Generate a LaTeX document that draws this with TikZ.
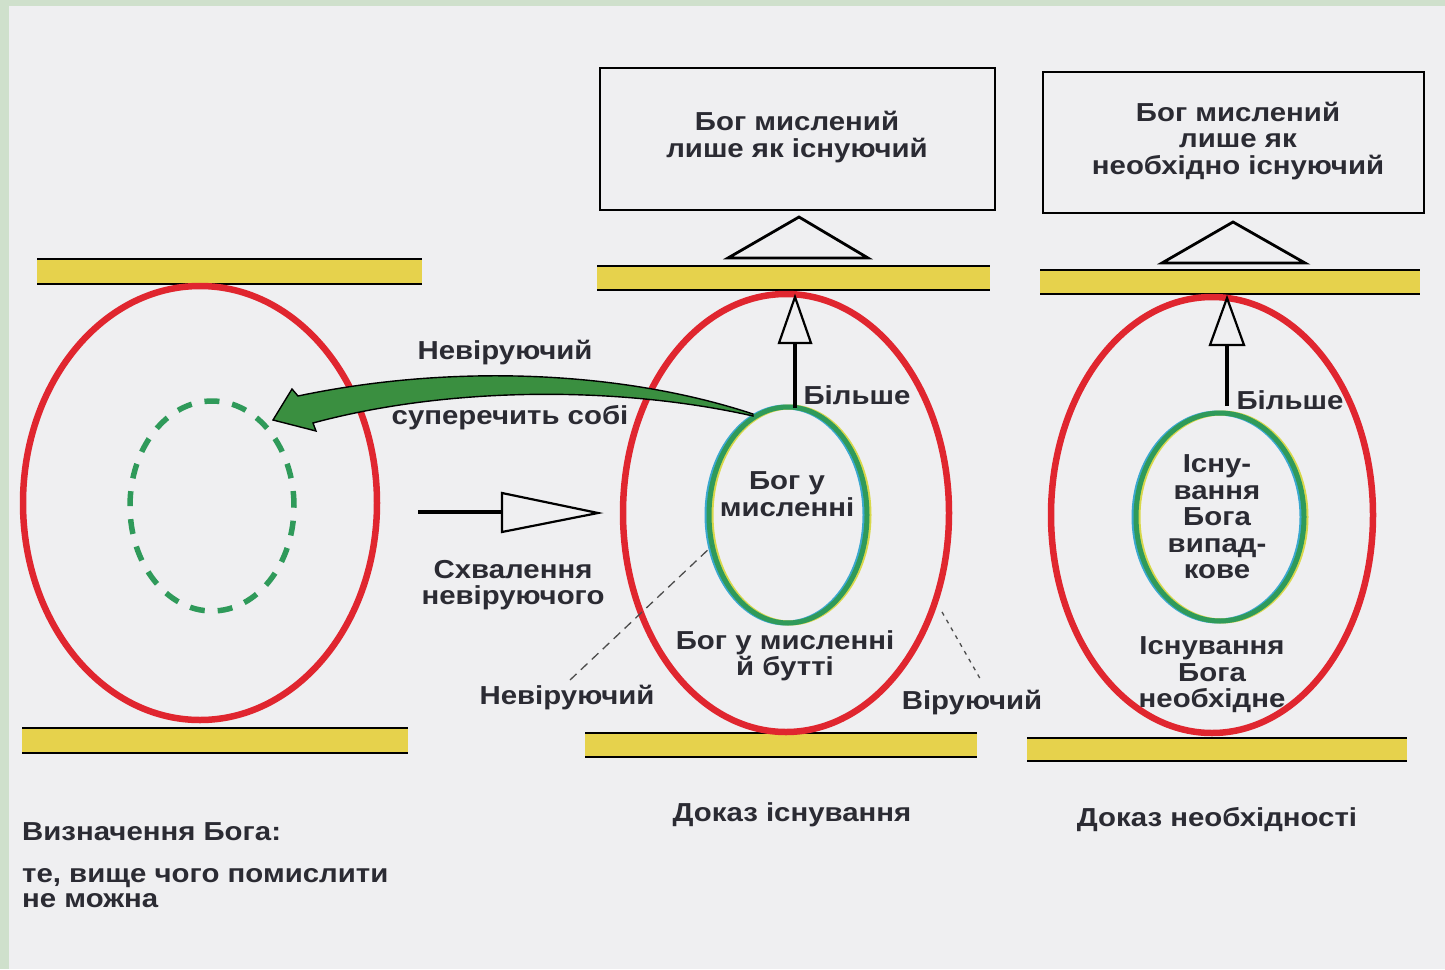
\documentclass[tikz,border=0pt]{standalone}
\usepackage{fontspec}
\usetikzlibrary{shapes.geometric}
\newfontfamily\labfont{Liberation Sans}[FakeStretch=1.13]
\definecolor{bgc}{HTML}{EFEFF1}
\definecolor{framec}{HTML}{CFE0CC}
\definecolor{redc}{HTML}{E0262F}
\definecolor{greenc}{HTML}{2F9A5A}
\definecolor{cyanc}{HTML}{3AA8D0}
\definecolor{yelc}{HTML}{D8D84A}
\definecolor{arrowg}{HTML}{3A8F40}
\definecolor{barc}{HTML}{E6D24C}
\definecolor{txtc}{HTML}{2B2B33}
\tikzset{
  txt/.style={font=\labfont\bfseries\fontsize{26}{26.5}\selectfont, text=txtc, align=center, inner sep=0pt},
  redell/.style={ellipse, draw=redc, line width=6.5pt, inner sep=0pt},
  greenell/.style={ellipse, draw=greenc, line width=5pt, inner sep=0pt},
  cyanell/.style={ellipse, draw=cyanc, line width=5pt, inner sep=0pt},
  yelell/.style={ellipse, draw=yelc, line width=5pt, inner sep=0pt},
  dashell/.style={ellipse, draw=greenc, line width=5.5pt, inner sep=0pt, dash pattern=on 15pt off 13pt},
  boxst/.style={rectangle, draw=black, line width=1.8pt, inner sep=0pt},
  hollowhead/.style={draw=black, line width=2.2pt, fill=bgc, line join=miter},
  shaft/.style={draw=black, line width=4pt},
  guide/.style={draw=black!70, line width=1.3pt}
}
\newcommand{\ybar}[4]{%
  \fill[barc] (#1,#3) rectangle (#2,#4);
  \draw[black, line width=1.8pt] (#1,#3) -- (#2,#3);
  \draw[black, line width=1.8pt] (#1,#4) -- (#2,#4);}
\begin{document}
\begin{tikzpicture}[x=1pt,y=-1pt]
\useasboundingbox (0,0) rectangle (1445,969);
\fill[bgc] (0,0) rectangle (1445,969);
\fill[framec] (0,0) rectangle (9,969);
\fill[framec] (0,0) rectangle (1445,6);

% yellow bars
\ybar{37}{422}{259}{284}
\ybar{22}{408}{728}{753}
\ybar{597}{990}{266}{290}
\ybar{585}{977}{733}{757}
\ybar{1040}{1420}{270}{294}
\ybar{1027}{1407}{738}{761}

% ellipses
\node[redell, minimum width=354, minimum height=434] (lred) at (200,503) {};
\node[dashell, minimum width=164, minimum height=210] (ldash) at (212,506) {};
\node[redell, minimum width=326, minimum height=438] (mred) at (786,513) {};
\node[cyanell, minimum width=158, minimum height=216] (mgreenc) at (786,515) {};
\node[yelell, minimum width=158, minimum height=216] (mgreeny) at (790,515) {};
\node[greenell, minimum width=158, minimum height=216] (mgreen) at (788,515) {};
\node[redell, minimum width=322, minimum height=436] (rred) at (1212,515) {};
\node[cyanell, minimum width=168, minimum height=208] (rgreenc) at (1218,517) {};
\node[yelell, minimum width=168, minimum height=208] (rgreeny) at (1222,517) {};
\node[greenell, minimum width=168, minimum height=208] (rgreen) at (1220,517) {};

% boxes
\node[boxst, minimum width=395, minimum height=142] (box1) at (797.5,139) {};
\node[txt] (box1t) at (797,137) {Бог мислений\\лише як існуючий};
\node[boxst, minimum width=381, minimum height=141] (box2) at (1233.5,142.5) {};
\node[txt] (box2t) at (1238,141) {Бог мислений\\лише як\\необхідно існуючий};

% triangles above bars
\coordinate (t1a) at (799,217);
\coordinate (t1b) at (728,258);
\coordinate (t1c) at (868,258);
\draw[black, line width=2.8pt, line join=miter] (t1a) -- (t1b) -- (t1c) -- cycle;
\coordinate (t2a) at (1233,222);
\coordinate (t2b) at (1162,263);
\coordinate (t2c) at (1305,263);
\draw[black, line width=2.8pt, line join=miter] (t2a) -- (t2b) -- (t2c) -- cycle;

% up arrows
\coordinate (u1s) at (795,408);
\coordinate (u1b) at (795,343);
\draw[shaft] (u1s) -- (u1b);
\draw[hollowhead] (779,343) -- (795,297) -- (811,343) -- cycle;
\coordinate (u2s) at (1227,406);
\coordinate (u2b) at (1227,345);
\draw[shaft] (u2s) -- (u2b);
\draw[hollowhead] (1210,345) -- (1227,298) -- (1244,345) -- cycle;

% horizontal hollow arrow
\coordinate (hs) at (418,512);
\coordinate (hb) at (503,512);
\draw[shaft] (hs) -- (hb);
\draw[hollowhead] (502,493) -- (598,513) -- (502,532) -- cycle;

% green curved arrow
\coordinate (gtail) at (753,414);
\coordinate (gtip) at (273,420);
\fill[arrowg, draw=black, line width=1.4pt, line join=miter]
  (gtail) .. controls (620,370) and (450,364) .. (298,396)
  -- (292,389) -- (gtip) -- (316,431) -- (313,423)
  .. controls (450,386) and (620,386) .. (753,416) -- cycle;

% guide lines
\coordinate (dl1) at (570,680);
\coordinate (dl2) at (712,546);
\draw[guide, dash pattern=on 9pt off 6pt] (dl1) -- (dl2);
\coordinate (dr1) at (942,612);
\coordinate (dr2) at (982,682);
\draw[guide, dash pattern=on 4pt off 5pt] (dr1) -- (dr2);

% labels
\node[txt] (nevir1) at (505,353) {Невіруючий};
\node[txt] (super) at (510,418) {суперечить собі};
\node[txt] (shval) at (513,585) {Схвалення\\невіруючого};
\node[txt] (mbil) at (857,395) {Більше};
\node[txt] (rbil) at (1290,400) {Більше};
\node[txt] (bogu) at (787,494) {Бог у\\мисленні};
\node[txt] (bogub) at (785,656) {Бог у мисленні\\й бутті};
\node[txt] (nevir2) at (567,698) {Невіруючий};
\node[txt] (vir) at (972,703) {Віруючий};
\node[txt] (dokaz1) at (792,815) {Доказ існування};
\node[txt] (rinner) at (1217,517) {Існу-\\вання\\Бога\\випад-\\кове};
\node[txt] (router) at (1212,675) {Існування\\Бога\\необхідне};
\node[txt] (dokaz2) at (1217,820) {Доказ необхідності};
\node[txt, anchor=west] (vyzn) at (22,832) {Визначення Бога:};
\node[txt, anchor=west, align=left, font=\labfont\bfseries\fontsize{26}{24.5}\selectfont] (vyzn2) at (22,888) {те, вище чого помислити\\не можна};
\end{tikzpicture}
\end{document}
